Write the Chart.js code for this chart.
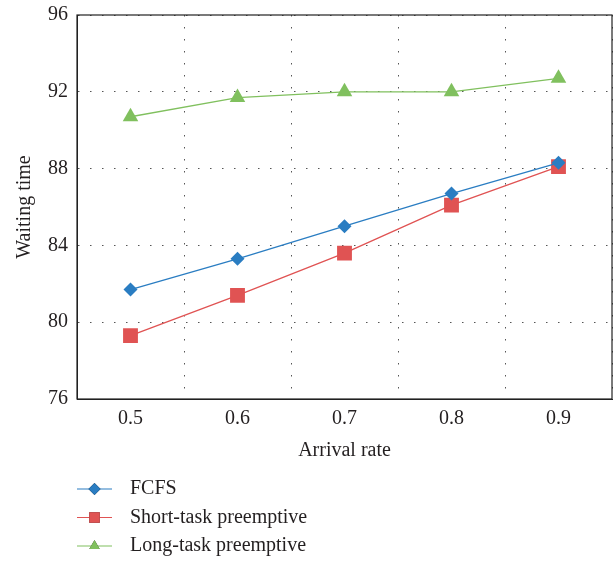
<!DOCTYPE html>
<html>
<head>
<meta charset="utf-8">
<script src="https://cdn.jsdelivr.net/npm/chart.js@4"></script>
<style>
  html, body { margin: 0; padding: 0; background: #fff; }
  #wrap { width: 613px; height: 561px; position: relative; }
</style>
</head>
<body>
<div id="wrap"><canvas id="waitChart"></canvas></div>
<script>
// datos
const arrivalRates = ['0.5', '0.6', '0.7', '0.8', '0.9'];
const fcfs = [81.7, 83.3, 85.0, 86.7, 88.3];
const shortTask = [79.3, 81.4, 83.6, 86.1, 88.1];
const longTask = [90.7, 91.7, 92.0, 92.0, 92.7];
const seriesNames = ['FCFS', 'Short-task preemptive', 'Long-task preemptive'];

const FONT = '"Liberation Serif", "DejaVu Serif", serif';
const TXT = '#231f20';
const FS = 20;

// caja completa alrededor del área de dibujo
const boxPlugin = {
  id: 'box',
  afterDatasetsDraw(chart) {
    const { ctx, chartArea: a } = chart;
    ctx.save();
    ctx.strokeStyle = '#222';
    ctx.lineWidth = 1.2;
    ctx.strokeRect(a.left, a.top, a.right - a.left, a.bottom - a.top);
    ctx.restore();
  }
};

// leyenda vertical abajo a la izquierda
const legendPlugin = {
  id: 'vlegend',
  afterDraw(chart) {
    const { ctx } = chart;
    const x0 = 77, y0 = 489, rowH = 28.5;
    ctx.save();
    chart.data.datasets.forEach((ds, i) => {
      const y = y0 + i * rowH;
      ctx.strokeStyle = ds.borderColor;
      ctx.lineWidth = 1.2;
      ctx.beginPath();
      ctx.moveTo(x0, y);
      ctx.lineTo(x0 + 35, y);
      ctx.stroke();
      Chart.helpers.drawPoint(ctx, {
        pointStyle: ds.pointStyle,
        radius: ds.pointStyle === 'rect' ? 7.5 : 6,
        borderWidth: 0
      }, x0 + 17.5, y);
      ctx.fillStyle = ds.backgroundColor;
      ctx.fill();
      ctx.fillStyle = TXT;
      ctx.font = FS + 'px ' + FONT;
      ctx.textBaseline = 'middle';
      ctx.fillText(ds.label, x0 + 53, y);
    });
    ctx.restore();
  }
};

new Chart(document.getElementById('waitChart'), {
  type: 'line',
  data: {
    labels: arrivalRates,
    datasets: [{
      label: seriesNames[0],
      data: fcfs,
      borderColor: '#2a7dc2',
      backgroundColor: '#2a7dc2',
      borderWidth: 1.3,
      pointStyle: 'rectRot',
      pointRadius: 7,
      pointBorderWidth: 0
    }, {
      label: seriesNames[1],
      data: shortTask,
      borderColor: '#e05353',
      backgroundColor: '#e05353',
      borderWidth: 1.3,
      pointStyle: 'rect',
      pointRadius: 10.5,
      pointBorderWidth: 0
    }, {
      label: seriesNames[2],
      data: longTask,
      borderColor: '#80c05e',
      backgroundColor: '#80c05e',
      borderWidth: 1.3,
      pointStyle: 'triangle',
      pointRadius: 9,
      pointBorderWidth: 0
    }]
  },
  options: {
    responsive: true,
    maintainAspectRatio: false,
    animation: false,
    layout: { autoPadding: false, padding: { top: 14, right: 1, bottom: 98, left: 13 } },
    scales: {
      x: {
        offset: true,
        grid: { offset: true, color: '#555', lineWidth: 1, drawTicks: false },
        border: { display: true, color: '#222', dash: [1.5, 10.5] },
        ticks: { color: TXT, font: { family: FONT, size: FS }, padding: 8 },
        title: { display: true, text: 'Arrival rate', color: TXT, font: { family: FONT, size: FS }, padding: { top: 0, bottom: 0 } }
      },
      y: {
        min: 76, max: 96,
        grid: { color: '#555', lineWidth: 1, drawTicks: false },
        border: { display: true, color: '#222', dash: [1.5, 10.5] },
        ticks: { stepSize: 4, color: TXT, font: { family: FONT, size: FS, lineHeight: 0.6 }, padding: 9 },
        title: { display: true, text: 'Waiting time', color: TXT, font: { family: FONT, size: FS }, padding: { top: 0, bottom: 2 } }
      }
    },
    plugins: {
      legend: { display: false },
      tooltip: { enabled: false }
    }
  },
  plugins: [boxPlugin, legendPlugin]
});
</script>
</body>
</html>
